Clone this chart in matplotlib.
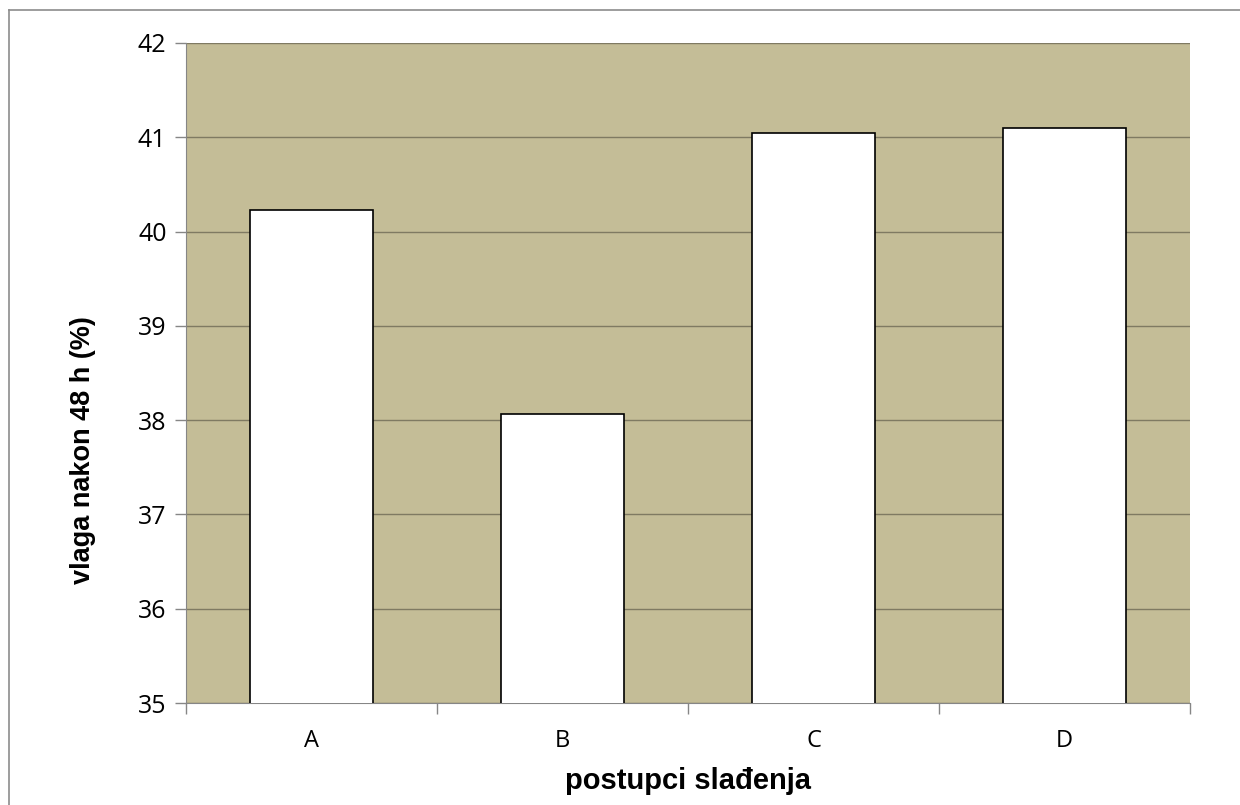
import matplotlib.pyplot as plt
from matplotlib.lines import Line2D

categories = ['A', 'B', 'C', 'D']
vlaga = [40.23, 38.07, 41.04, 41.1]
yticks = [35, 36, 37, 38, 39, 40, 41, 42]

fig = plt.figure(figsize=(12.4, 8.05), dpi=100)
ax = fig.add_axes([0.15, 0.1267, 0.8097, 0.82])
ax.set_facecolor('#C4BD97')

x = range(len(categories))
ax.bar(x, vlaga, width=0.49, color='white', edgecolor='black', linewidth=1.2, zorder=3)

ax.set_ylim(35, 42)
ax.set_xlim(-0.5, len(categories) - 0.5)
ax.set_yticks(yticks)
ax.yaxis.grid(True, color='#7f7a62', linewidth=1.0, zorder=1)
ax.set_axisbelow(True)

ax.set_xticks(list(x))
ax.set_xticklabels(categories, fontsize=17, family='Open Sans')
ax.tick_params(axis='x', length=0, pad=19)
# ticks between categories, like excel
ax.set_xticks([i - 0.5 for i in range(len(categories) + 1)], minor=True)
ax.tick_params(axis='x', which='minor', length=8, color='#868686', width=1)
ax.tick_params(axis='y', length=8, color='#868686', width=1, pad=6)
for lab in ax.get_yticklabels():
    lab.set_fontsize(18)
    lab.set_family('Open Sans')

for s in ['top', 'right']:
    ax.spines[s].set_visible(False)
ax.spines['left'].set_color('#868686')
ax.spines['bottom'].set_color('#868686')

ax.set_xlabel('postupci slađenja', fontsize=21, fontweight='bold', family='Liberation Sans')
ax.xaxis.set_label_coords(0.5, -0.118)
ax.xaxis.label.set_va('center')
ax.set_ylabel('vlaga nakon 48 h (%)', fontsize=19.5, fontweight='bold', family='Liberation Sans')
ax.yaxis.set_label_coords(-0.1026, 0.383)
ax.yaxis.label.set_va('center')

# chart frame
fig.add_artist(Line2D([9 / 1240, 9 / 1240], [0, 1 - 10 / 805], color='#8c8c8c', linewidth=1.2))
fig.add_artist(Line2D([9 / 1240, 1], [1 - 10 / 805, 1 - 10 / 805], color='#8c8c8c', linewidth=1.2))

fig.savefig('out.png', dpi=100)
